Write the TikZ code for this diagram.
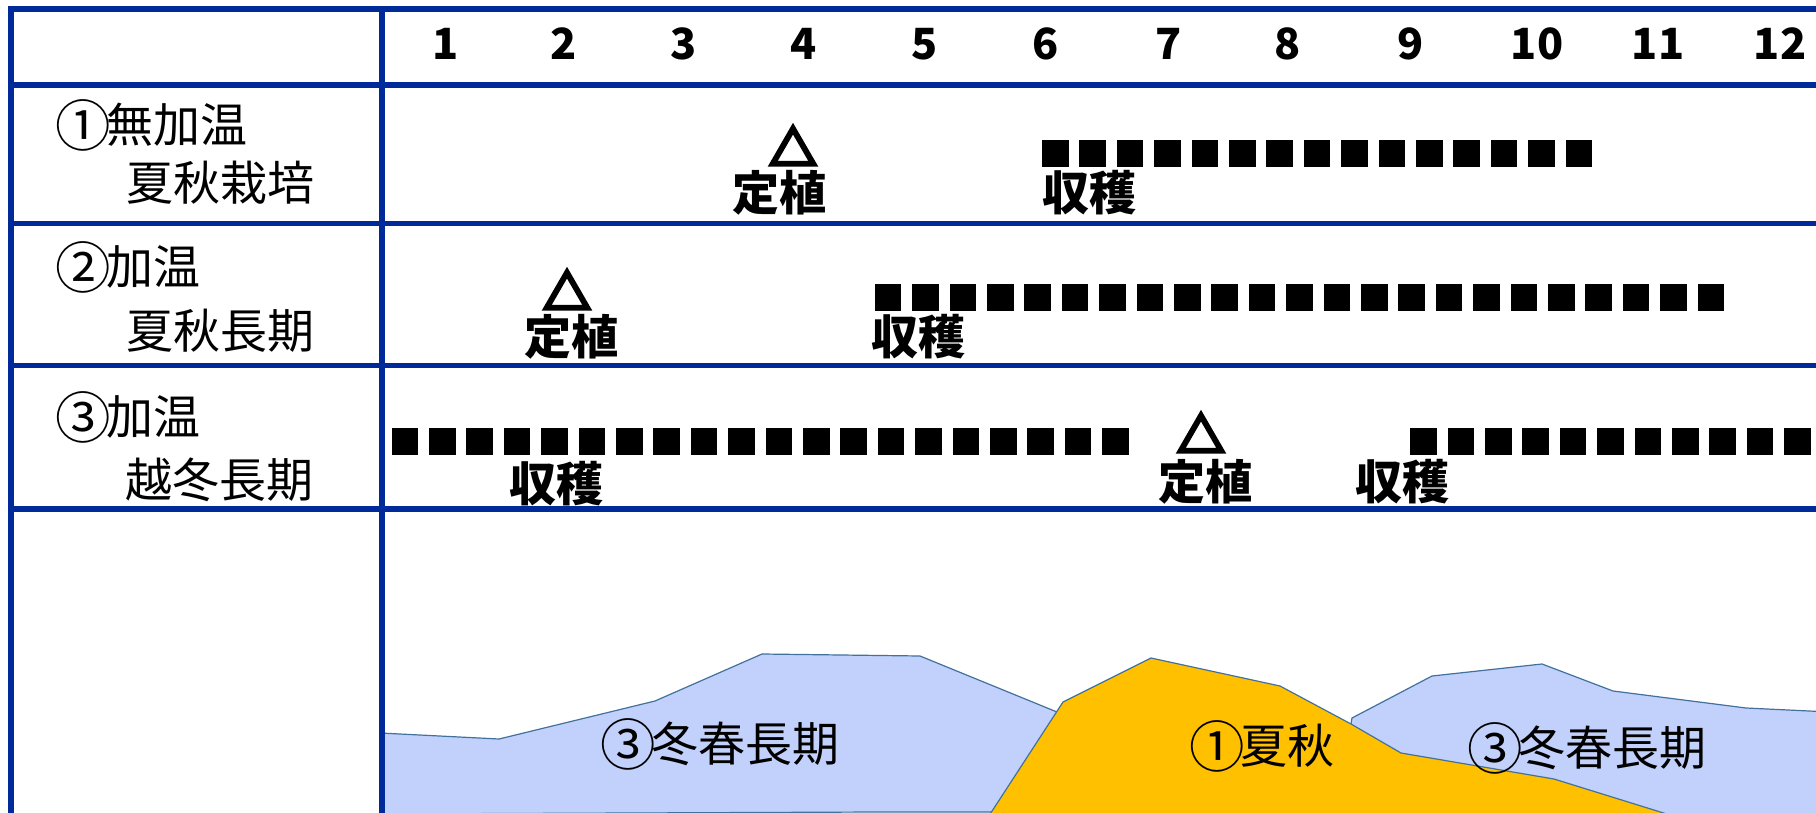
\documentclass[tikz,border=0pt]{standalone}
\usepackage{fontspec}
\newfontfamily\jp{Noto Sans CJK JP}
\newfontfamily\jptri{Noto Sans CJK JP Bold}[FakeBold=8]
\newcommand{\circnum}[1]{\makebox[1em]{\raisebox{-0.07em}{\scalebox{1.18}{#1}}}}
\definecolor{gridblue}{RGB}{0,42,154}
\definecolor{winterblue}{RGB}{194,209,252}
\definecolor{summergold}{RGB}{255,192,0}
\definecolor{edgeblue}{RGB}{65,113,156}

\begin{document}
\begin{tikzpicture}[x=0.5pt,y=-0.5pt,every node/.style={inner sep=0pt},
	rowlabel/.style={anchor=west,font=\jp\fontsize{23.5}{28}\selectfont},
	monthnum/.style={font=\jp\bfseries\fontsize{21.5}{25}\selectfont},
	event/.style={font=\jp\bfseries\fontsize{23.5}{28}\selectfont},
	plantmark/.style={font=\jptri\fontsize{23.5}{28}\selectfont},
	gridline/.style={draw=gridblue,line width=2.75pt},
	cropzone/.style={draw=edgeblue,line width=0.6pt}
	]
	\clip (0,0) rectangle (1816,813);
	% harvest curves
	\filldraw[cropzone,fill=winterblue] (380,733) -- (499,739) -- (655,701) -- (762,654) -- (920,656) -- (1057,712) -- (1100,812) -- (877,812) -- (380,814) -- cycle;
	\filldraw[cropzone,fill=winterblue] (1351,724) -- (1352,718) -- (1432,676) -- (1542,664) -- (1613,691) -- (1746,708) -- (1830,712) -- (1830,840) -- (1400,840) -- cycle;
	\filldraw[cropzone,fill=summergold] (983,825) -- (1063,702) -- (1151,658) -- (1280,686) -- (1351,724) -- (1401,753) -- (1554,779) -- (1670,815) -- (1670,840) -- (983,840) -- cycle;
	% table
	\draw[gridline] (11,813) -- (11,9) -- (1816,9);
	\draw[gridline] (382,9) -- (382,813);
	\foreach \y in {85,223.5,365.5,509}
		\draw[gridline] (11,\y) -- (1816,\y);
	\foreach \m/\x in {1/446,2/564,3/684,4/804,5/925,6/1046,7/1169,8/1288,9/1411,10/1537,11/1658,12/1780}
		\node[monthnum] (m\m) at (\x,44) {\m};
	\node[rowlabel] (r1a) at (59,125) {\circnum{①}無加温};
	\node[rowlabel] (r1b) at (126,183) {夏秋栽培};
	\node[rowlabel] (r2a) at (59,267) {\circnum{②}加温};
	\node[rowlabel] (r2b) at (126,331) {夏秋長期};
	\node[rowlabel] (r3a) at (59,417) {\circnum{③}加温};
	\node[rowlabel] (r3b) at (125,480) {越冬長期};
	% planting and harvest
	\node[plantmark] (tri1) at (793,146) {△};
	\node[event] (plant1) at (779,193) {定植};
	\node[event] (harv1) at (1089,193) {収穫};
	\node[plantmark] (tri2) at (567,290) {△};
	\node[event] (plant2) at (571,337) {定植};
	\node[event] (harv2) at (918,337) {収穫};
	\node[event] (harv3a) at (556,484) {収穫};
	\node[plantmark] (tri3) at (1201,433) {△};
	\node[event] (plant3) at (1205,482) {定植};
	\node[event] (harv3b) at (1402,482) {収穫};
	\foreach \k in {0,...,14} \fill ({1042+\k*37.4},140) rectangle +(26.6,26.6);
	\foreach \k in {0,...,22} \fill ({874.8+\k*37.4},284) rectangle +(26.6,26.6);
	\foreach \k in {0,...,19} \fill ({391.5+\k*37.4},428) rectangle +(26.6,26.6);
	\foreach \k in {0,...,10} \fill ({1410.2+\k*37.4},428) rectangle +(26.6,26.6);
	% labels of the curves
	\node[rowlabel] (winter1) at (604,744) {\circnum{③}冬春長期};
	\node[rowlabel] (summer1) at (1193,746) {\circnum{①}夏秋};
	\node[rowlabel] (winter2) at (1471,748) {\circnum{③}冬春長期};
\end{tikzpicture}
\end{document}
